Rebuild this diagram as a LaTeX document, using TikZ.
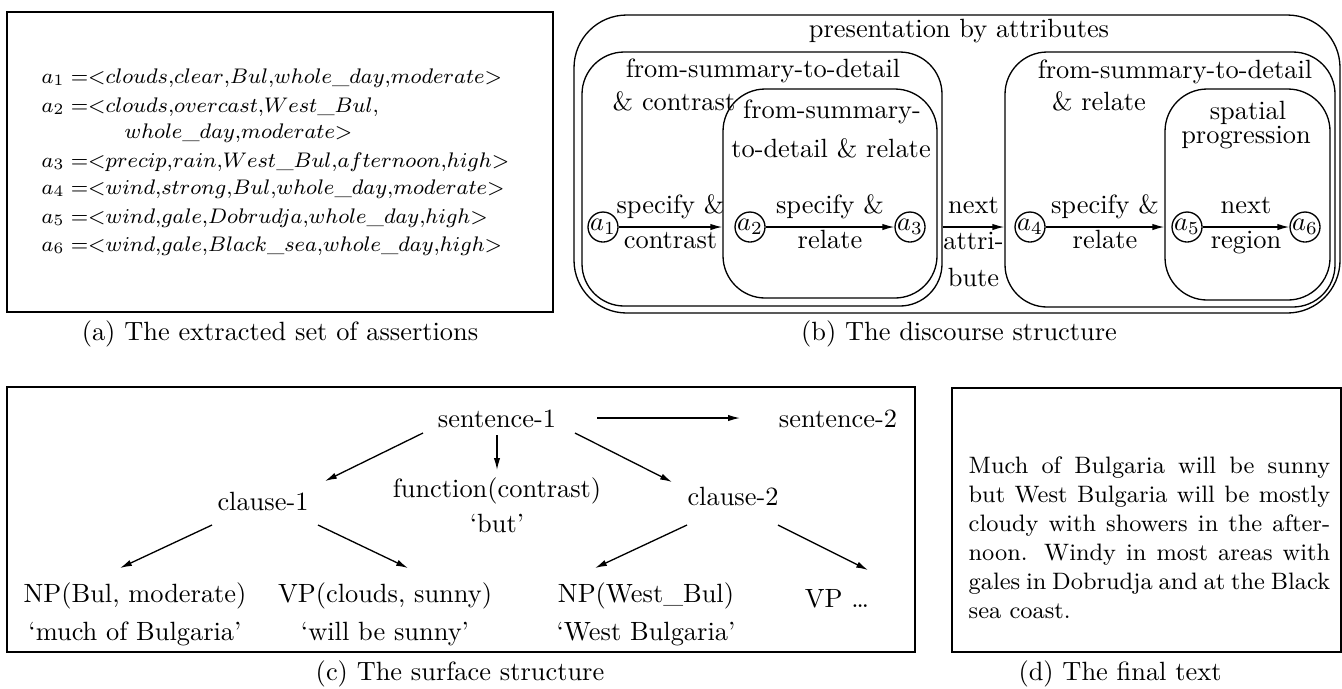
\documentclass[tikz,border=0pt]{standalone}
\usepackage{amsmath}
\usetikzlibrary{arrows.meta,fit}

\tikzset{
  panel/.style={draw,inner sep=0pt},
  grp/.style={draw,rounded corners=16pt,inner sep=0pt},
  st/.style={draw,circle,inner sep=0pt,minimum size=10.5pt},
  upper/.style={anchor=base,inner sep=0pt,yshift=5.3pt},
  lower/.style={anchor=base,inner sep=0pt,yshift=-8pt},
  tn/.style={anchor=base,inner sep=0pt},
  asr/.style={anchor=base west,inner sep=0pt,font=\fontsize{8.5pt}{10.6pt}\selectfont},
}
% assertion tuple, set tight as in the source
\newcommand{\tup}[1]{{=}{<}#1{>}}
\newcommand{\cm}{{,}}

\begin{document}
\begin{tikzpicture}[x=0.379pt,y=-0.379pt,>={Latex[length=4.5pt,width=2.4pt]},line width=0.5pt]
  \useasboundingbox (0,0) rectangle (1342,688);

  % (a) the assertions
  \node[panel,fit={(7,12) (553,312)}] (pa) {};
  \node[asr] (as1) at (41,83) {$a_1\;\tup{clouds\cm clear\cm Bul\cm whole\_day\cm moderate}$};
  \node[asr] (as2) at (41,112) {$a_2\;{=}{<}clouds\cm overcast\cm West\_Bul\cm$};
  \node[asr] (as2b) at (124,138) {$whole\_day\cm moderate{>}$};
  \node[asr] (as3) at (41,167) {$a_3\;\tup{precip\cm rain\cm West\_Bul\cm afternoon\cm high}$};
  \node[asr] (as4) at (41,194) {$a_4\;\tup{wind\cm strong\cm Bul\cm whole\_day\cm moderate}$};
  \node[asr] (as5) at (41,223) {$a_5\;\tup{wind\cm gale\cm Dobrudja\cm whole\_day\cm high}$};
  \node[asr] (as6) at (41,251) {$a_6\;\tup{wind\cm gale\cm Black\_sea\cm whole\_day\cm high}$};
  \node[tn] (capa) at (280,340) {(a) The extracted set of assertions};

  % (b) the discourse structure
  \node[grp,rounded corners=20pt,fit={(574,15) (1340,313)}] (pb) {};
  \node[grp,fit={(582,52) (942,306)}] (g1) {};
  \node[grp,fit={(723,89) (937,298)}] (g2) {};
  \node[grp,fit={(1005,52) (1335,307)}] (g3) {};
  \node[grp,fit={(1165,89) (1330,300)}] (g4) {};
  \node[tn] (pbl) at (959,37) {presentation by attributes};
  \node[tn] (g1a) at (763,77) {from-summary-to-detail};
  \node[tn] (g1b) at (674,110) {\& contrast};
  \node[tn] (g2a) at (832,118) {from-summary-};
  \node[tn] (g2b) at (831,157) {to-detail \& relate};
  \node[tn] (g3a) at (1175,78) {from-summary-to-detail};
  \node[tn] (g3b) at (1099,110) {\& relate};
  \node[tn] (g4a) at (1248,119) {spatial};
  \node[tn] (g4b) at (1246,143) {progression};

  \node[st] (a1) at (603,227) {$a_1$};
  \node[st] (a2) at (750,227) {$a_2$};
  \node[st] (a3) at (910,227) {$a_3$};
  \node[st] (a4) at (1030,227) {$a_4$};
  \node[st] (a5) at (1187,227) {$a_5$};
  \node[st] (a6) at (1305,227) {$a_6$};

  \draw[->] (a1) -- (a1 -| g2.west) node[midway,upper] (e1u) {specify \&}
    node[midway,lower] (e1l) {contrast};
  \draw[->] (a2) -- (a3) node[midway,upper] (e2u) {specify \&}
    node[midway,lower] (e2l) {relate};
  \draw[->] (a3 -| g1.east) -- (a4 -| g3.west) node[midway,upper] (e3u) {next}
    node[midway,lower,yshift=-0.7pt] (e3l) {attri-}
    node[midway,lower,yshift=-14.7pt] (e3m) {bute};
  \draw[->] (a4) -- (a4 -| g4.west) node[midway,upper] (e4u) {specify \&}
    node[midway,lower] (e4l) {relate};
  \draw[->] (a5) -- (a6) node[midway,upper] (e5u) {next}
    node[midway,lower] (e5l) {region};
  \node[tn] (capb) at (959,340) {(b) The discourse structure};

  % (c) the surface structure
  \node[panel,fit={(7,387) (915,652)}] (pc) {};
  \node[tn] (s1) at (497,427) {sentence-1};
  \node[tn] (s2) at (838,427) {sentence-2};
  \node[tn] (fn) at (497,497) {function(contrast)};
  \node[tn] (but) at (497,532) {`but'};
  \node[tn] (c1) at (263,510) {clause-1};
  \node[tn] (c2) at (733,505) {clause-2};
  \node[tn] (np1) at (135,602) {NP(Bul, moderate)};
  \node[tn] (q1) at (135,640) {`much of Bulgaria'};
  \node[tn] (vp1) at (385,602) {VP(clouds, sunny)};
  \node[tn] (q2) at (385,640) {`will be sunny'};
  \node[tn] (np2) at (646,602) {NP(West\_Bul)};
  \node[tn] (q3) at (646,640) {`West Bulgaria'};
  \node[tn] (vp2) at (837,607) {VP \dots};

  \draw[->] ([shift={(-74,6)}]s1.base) -- ([shift={(62,-29)}]c1.base);
  \draw[->] ([shift={(0,8)}]s1.base) -- ([shift={(0,-27)}]fn.base);
  \draw[->] ([shift={(78,6)}]s1.base) -- ([shift={(-61,-23)}]c2.base);
  \draw[->] ([shift={(100,-9)}]s1.base) -- ([shift={(-98,-9)}]s2.base);
  \draw[->] ([shift={(-51,15)}]c1.base) -- ([shift={(-15,-34)}]np1.base);
  \draw[->] ([shift={(55,15)}]c1.base) -- ([shift={(23,-34)}]vp1.base);
  \draw[->] ([shift={(-46,20)}]c2.base) -- ([shift={(-51,-34)}]np2.base);
  \draw[->] ([shift={(45,20)}]c2.base) -- ([shift={(31,-37)}]vp2.base);
  \node[tn] (capc) at (460,680) {(c) The surface structure};

  % (d) the final text
  \node[panel,fit={(952,388) (1341,652)}] (pd) {};
  \node[anchor=base west,inner sep=0pt,text width=137pt,align=justify,font=\small] (ft) at (968,473)
    {Much of Bulgaria will be sunny\linebreak but West Bulgaria will be mostly\linebreak
     cloudy with showers in the after-\linebreak noon. Windy in most areas with\linebreak
     gales in Dobrudja and at the Black\linebreak sea coast.};
  \node[tn] (capd) at (1120,680) {(d) The final text};
\end{tikzpicture}
\end{document}
